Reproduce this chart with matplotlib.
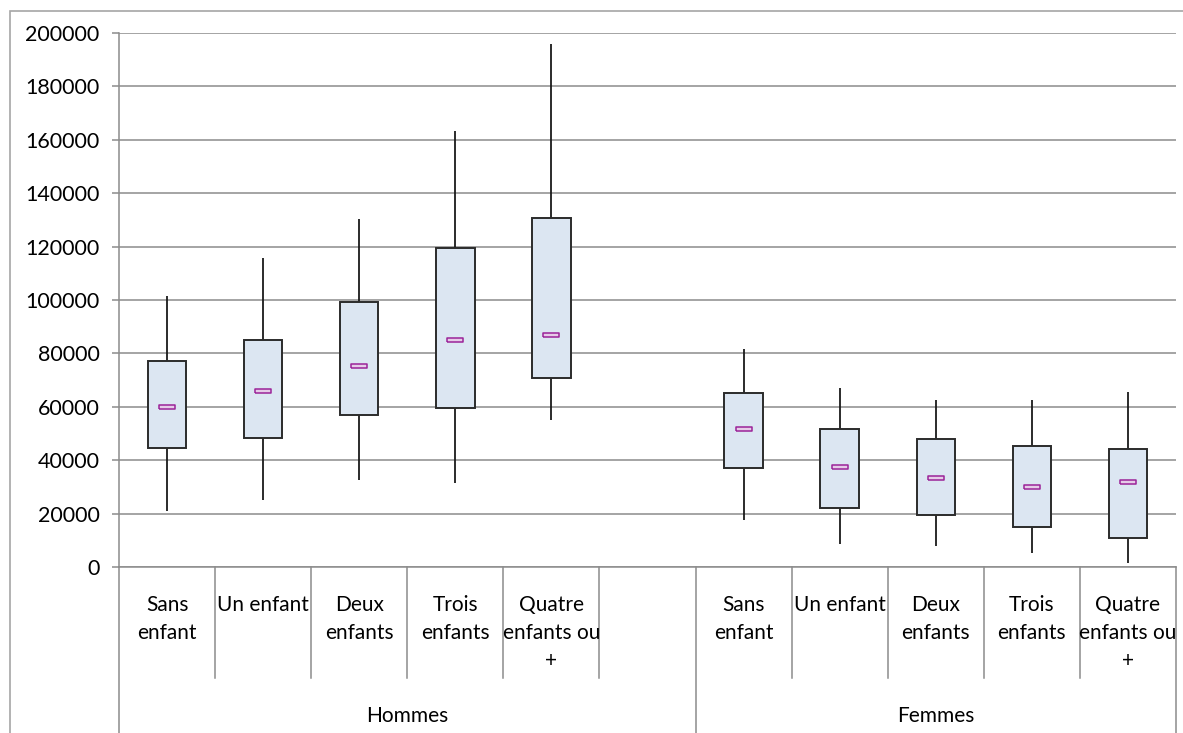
import matplotlib
matplotlib.use('Agg')
import matplotlib.pyplot as plt
from matplotlib.patches import Rectangle

plt.rcParams['font.family'] = ['Lato', 'DejaVu Sans']

# categories (the empty slot separates the two groups)
categories = ['Sans\nenfant', 'Un enfant', 'Deux\nenfants', 'Trois\nenfants', 'Quatre\nenfants ou\n+', '',
              'Sans\nenfant', 'Un enfant', 'Deux\nenfants', 'Trois\nenfants', 'Quatre\nenfants ou\n+']
groups = ['Hommes', 'Femmes']
group_sizes = [6, 5]

# valeurs (None = emplacement vide)
mini = [20900, 25000, 32400, 31500, 55000, None, 17500, 8800, 7900, 5100, 1400]
q1 = [44700, 48500, 57100, 59500, 70600, None, 37000, 22100, 19400, 14800, 11000]
mediane = [60000, 65900, 75400, 84900, 86800, None, 51500, 37450, 33200, 30000, 31800]
q3 = [77150, 84900, 99300, 119500, 130600, None, 65200, 51700, 48000, 45200, 44300]
maxi = [101400, 115700, 130500, 163300, 196000, None, 81500, 67200, 62700, 62700, 65400]

yticks = [0, 20000, 40000, 60000, 80000, 100000, 120000, 140000, 160000, 180000, 200000]

W, H = 1183, 733
fig = plt.figure(figsize=(W/100, H/100), dpi=100)
ax = fig.add_axes([119/W, (H-567)/H, (1176-119)/W, (567-33)/H])

# cadre du graphique
fig.patches.append(Rectangle((10/W, -0.1), 1.2, (H-11)/H + 0.1, transform=fig.transFigure,
                             fill=False, ec='#a6a6a6', lw=1.2))

pos = [i for i in range(len(categories)) if mini[i] is not None]
lo = [mini[i] for i in pos]
hi = [maxi[i] for i in pos]
b1 = [q1[i] for i in pos]
b3 = [q3[i] for i in pos]
med = [mediane[i] for i in pos]

ax.vlines(pos, lo, hi, color='#1a1a1a', lw=1.3, zorder=2)
ax.bar(pos, [t - b for t, b in zip(b3, b1)], bottom=b1, width=0.4,
       color='#DCE6F2', edgecolor='#2b2b2b', lw=1.4, zorder=3)
rect = [(-1, -0.2), (1, -0.2), (1, 0.2), (-1, 0.2), (-1, -0.2)]
ax.plot(pos, med, ls='none', marker=rect, markersize=11, mfc='#E6CBE8', mec='#9B2399', mew=1.1, zorder=4)

ax.set_xlim(-0.5, len(categories) - 0.5)
ax.set_ylim(0, 200000)
ax.set_yticks(yticks)
ax.set_yticklabels([str(v) for v in yticks])
ax.yaxis.grid(True, color='#8c8c8c', lw=1.1)
ax.set_axisbelow(True)
ax.tick_params(axis='y', length=5, color='#8c8c8c', width=1.1, labelsize=15.5, pad=9, labelcolor='black')
ax.set_xticks([])
for s in ['top', 'right']:
    ax.spines[s].set_visible(False)
ax.spines['left'].set_color('#8c8c8c')
ax.spines['bottom'].set_color('#8c8c8c')
ax.spines['left'].set_linewidth(1.1)
ax.spines['bottom'].set_linewidth(1.1)

# axe des catégories à deux niveaux
tr = ax.get_xaxis_transform()
court = -(678 - 567) / 534
long_ = -(H - 567) / 534 - 0.01
bords = [0]
for n in group_sizes:
    bords.append(bords[-1] + n)
for k in range(len(categories) + 1):
    x = k - 0.5
    y2 = long_ if k in bords else court
    ax.plot([x, x], [0, y2], transform=tr, color='#8c8c8c', lw=1.1, clip_on=False)
for i, lab in enumerate(categories):
    ax.text(i, -(595 - 567) / 534, lab, transform=tr, ha='center', va='top',
            fontsize=15, linespacing=1.5, color='black')
for g, lab in enumerate(groups):
    centre = (bords[g] + bords[g + 1]) / 2 - 0.5
    ax.text(centre, -(716 - 567) / 534, lab, transform=tr, ha='center', va='center',
            fontsize=15, color='black')

plt.savefig('out.png', dpi=100)
